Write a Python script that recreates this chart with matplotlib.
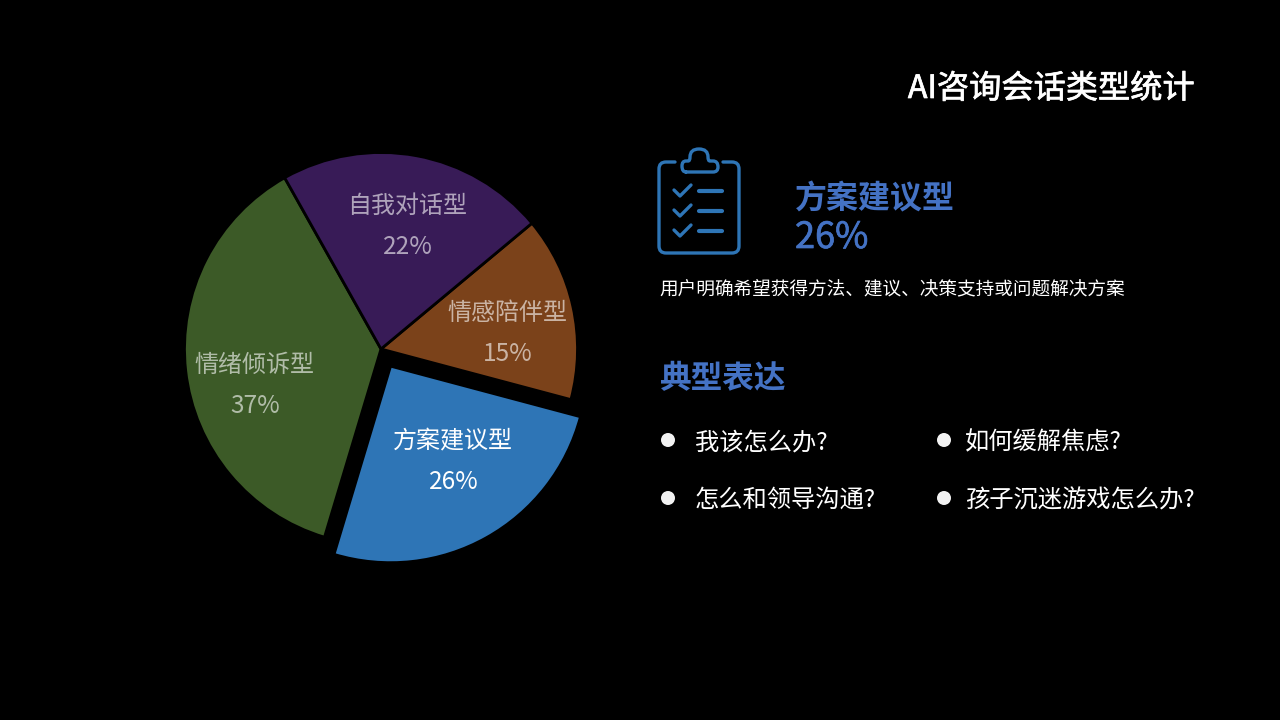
import matplotlib
matplotlib.use('Agg')
import matplotlib.pyplot as plt
import matplotlib.patheffects as pe
from matplotlib.path import Path
from matplotlib.patches import Circle, PathPatch

plt.rcParams['font.family'] = ['Noto Sans CJK SC', 'DejaVu Sans']

W, H = 1280, 720

# 饼图数据 (扇区角度从图上量出, 标签取整)
types = ['情感陪伴型', '方案建议型', '情绪倾诉型', '自我对话型']
shares = [15.2, 25.5, 37.2, 22.1]
colors = ['#7B421A', '#2E75B6', '#3C5A27', '#381B57']
explode = [0, 0.1, 0, 0]
label_alpha = [0.6, 1.0, 0.6, 0.6]
label_pos = [(507, 313), (453, 441), (254, 365), (407, 206)]

title = 'AI咨询会话类型统计'
focus_name = '方案建议型'
focus_value = '26%'
focus_desc = '用户明确希望获得方法、建议、决策支持或问题解决方案'
examples_title = '典型表达'
examples = ['我该怎么办?', '如何缓解焦虑?', '怎么和领导沟通?', '孩子沉迷游戏怎么办?']

BLUE = '#4472C4'
ICON = '#2E75B6'

fig = plt.figure(figsize=(W / 100, H / 100), dpi=100, facecolor='black')

# 饼图: 中心 (381, 349)
cx, cy, r = 381, 349, 196.5
size = r * 3
ax = fig.add_axes([(cx - size / 2) / W, 1 - (cy + size / 2) / H, size / W, size / H])
ax.pie(shares, colors=colors, explode=explode, startangle=39.8, counterclock=False,
       radius=1, wedgeprops={'edgecolor': 'black', 'linewidth': 2})
ax.set_xlim(-1.5, 1.5)
ax.set_ylim(-1.5, 1.5)
ax.set_aspect('equal')
ax.axis('off')

# 其余内容用像素坐标
ov = fig.add_axes([0, 0, 1, 1])
ov.set_xlim(0, W)
ov.set_ylim(H, 0)
ov.axis('off')
ov.patch.set_alpha(0)

for name, val, a, (x, y) in zip(types, shares, label_alpha, label_pos):
    ov.text(x, y, name, color='white', alpha=a, fontsize=17.3, ha='center', va='center')
    ov.text(x + 1, y + 41, f'{val:.0f}%', color='white', alpha=a, fontsize=17.6, ha='center', va='center')

ov.text(1195, 89, title, color='white', fontsize=23.2, ha='right', va='center',
        path_effects=[pe.withStroke(linewidth=0.5, foreground='white')])

# 图标
lw = 2.4
M, L, C = Path.MOVETO, Path.LINETO, Path.CURVE3
board = Path([(675, 162), (666, 162), (659, 162), (659, 169), (659, 246), (659, 253), (666, 253),
              (732, 253), (739, 253), (739, 246), (739, 169), (739, 162), (732, 162), (723, 162)],
             [M, L, C, C, L, C, C, L, C, C, L, C, C, L])
clip = Path([(686, 172), (713, 172), (718, 172), (718, 167), (718, 161), (713, 161), (710, 161),
             (708, 161), (708, 157), (708, 149), (699, 149), (690, 149), (690, 157), (690, 161),
             (688, 161), (686, 161), (682, 161), (682, 166), (682, 172), (686, 172)],
            [M, L, C, C, C, C, L, C, C, C, C, C, C, C, C, L, C, C, C, C])
ov.add_patch(PathPatch(board, fill=False, edgecolor=ICON, lw=lw, capstyle='round'))
ov.add_patch(PathPatch(clip, fill=False, edgecolor=ICON, lw=lw, capstyle='round'))
for y in [190, 210, 230]:
    ov.plot([674, 680, 691], [y, y + 6, y - 5], color=ICON, lw=lw, solid_capstyle='round')
    ov.plot([699, 722], [y + 1, y + 1], color=ICON, lw=3, solid_capstyle='round')

ov.text(795, 199, focus_name, color=BLUE, fontsize=23, fontweight='bold', ha='left', va='center')
ov.text(795, 238, focus_value, color=BLUE, fontsize=26, ha='left', va='center',
        path_effects=[pe.withStroke(linewidth=0.5, foreground=BLUE)])
ov.text(659, 289, focus_desc, color='white', fontsize=13.45, ha='left', va='center')
ov.text(659, 379, examples_title, color=BLUE, fontsize=22.8, fontweight='bold', ha='left', va='center')

bullet_pos = [(668, 440), (944, 440), (668, 498), (944, 498)]
for text, (x, y) in zip(examples, bullet_pos):
    ov.add_patch(Circle((x, y), 7, facecolor='#F2F2F2', edgecolor='none'))
    ov.text(x + 27 - (6 if x > 900 else 0), y + 2, text, color='white', fontsize=17.5, ha='left', va='center')

fig.savefig('out.png', dpi=100, facecolor='black')
